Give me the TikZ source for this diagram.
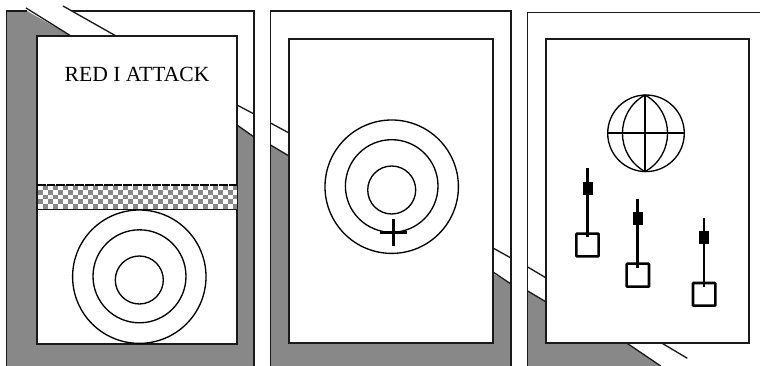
\documentclass[tikz,border=0pt]{standalone}
\usepackage{fontspec}
\setmainfont{Liberation Serif}
\usepackage{xcolor}
\definecolor{gris}{HTML}{888888}
\definecolor{negro}{HTML}{1A1A1A}
\tikzset{
  marco/.style={negro, line width=1pt},
  pantalla/.style={negro, line width=1.3pt, fill=white},
  diana/.style={black, line width=1pt},
  palanca/.style={black, line width=1.9pt},
  botonpeq/.style={black, line width=1.9pt, fill=white, rounded corners=0.5pt},
}
\begin{document}
\begin{tikzpicture}[x=0.75pt, y=-0.75pt]
        \useasboundingbox (0,0) rectangle (760,366);
        % panel izquierdo
        \fill[gris] (6.5,11) -- (27,11) -- (71,36) -- (237,125) -- (254,137) -- (254,366) -- (6.5,366) -- cycle;
        \draw[marco] (27,11) -- (6.5,11) -- (6.5,366);
        \draw[marco] (72,11) -- (254,11) -- (254,366);
        \draw[marco] (26,8) -- (71,36);
        \draw[marco] (63,6) -- (116,36);
        \draw[marco] (237,105) -- (254,114);
        \draw[marco] (237,125) -- (254,137);
        \draw[pantalla] (37,36) rectangle (237,344);
        \node[font=\fontsize{16.2pt}{18pt}\selectfont, black] (titulo) at (137,74) {RED I ATTACK};
        \fill[gris] (38,185) rectangle (236.5,209);
        \foreach \i in {0,...,39} {
          \foreach \j in {0,...,4} {
            \pgfmathparse{int(mod(\i+\j,2))}
            \ifnum\pgfmathresult=0
              \fill[white] ({38+\i*5},{185+\j*4.8}) rectangle ({min(43+\i*5,236.5)},{189.8+\j*4.8});
            \fi
          }
        }
        \draw[black, line width=1pt, dash pattern=on 6.5pt off 0.7pt] (37,185) -- (237,185);
        \draw[negro, line width=1pt] (37,209.5) -- (237,209.5);
        \draw[diana] (139.3,276.7) circle (66.7);
        \draw[diana] (139.5,276.3) circle (46.5);
        \draw[diana] (139.3,280) circle (24);
        % panel central
        \fill[gris] (270.5,145) -- (511,284) -- (511,366) -- (270.5,366) -- cycle;
        \draw[marco] (270.5,366) -- (270.5,11) -- (511,11) -- (511,366);
        \draw[marco] (270.5,123) -- (289,133);
        \draw[marco] (270.5,145) -- (289,156);
        \draw[marco] (493,248) -- (511,258);
        \draw[marco] (493,272) -- (511,284);
        \draw[pantalla] (289,39) rectangle (493,343);
        \draw[diana] (391.7,186.7) circle (66.7);
        \draw[diana] (391.7,186) circle (46.3);
        \draw[diana] (391.7,190) circle (24);
        \draw[black, line width=1.8pt] (380,232.7) -- (407.3,232.7);
        \draw[black, line width=1.8pt] (393.3,219.3) -- (393.3,246);
        % panel derecho
        \fill[gris] (527.7,291) -- (545.7,301.7) -- (626.7,343) -- (660.7,366) -- (527.7,366) -- cycle;
        \draw[marco] (527.7,366) -- (527.7,12.7) -- (760,12.7);
        \draw[marco] (527.7,267) -- (545.7,277.7);
        \draw[marco] (527.7,291) -- (545.7,301.7);
        \draw[marco] (626.7,343) -- (660.7,366);
        \draw[marco] (661.7,343) -- (687.3,358.3);
        \draw[pantalla] (545.7,38.7) rectangle (749,343);
        \draw[diana] (646,133.3) circle (38.3);
        \draw[diana] (645,95) to[bend left=61, looseness=1.15] (645,171.6);
        \draw[diana] (645,95) to[bend right=61, looseness=1.15] (645,171.6);
        \draw[black, line width=1.5pt] (607.7,133.3) -- (685,133.3);
        \draw[black, line width=1.5pt] (645,95) -- (645,171.6);
        \draw[botonpeq] (576.3,233.7) rectangle (598.7,256.3);
        \draw[palanca] (587.3,168.3) -- (587.3,237.3);
        \fill[black] (583.3,182) rectangle (593,194.7);
        \draw[botonpeq] (626.7,263.7) rectangle (649,286.7);
        \draw[palanca] (637.7,199) -- (637.7,267.7);
        \fill[black] (633,212) rectangle (643,225);
        \draw[botonpeq] (693,283) rectangle (715.3,305.7);
        \draw[palanca] (704,218.3) -- (704,286.7);
        \fill[black] (699,231) rectangle (709,244);
      \end{tikzpicture}
\end{document}
